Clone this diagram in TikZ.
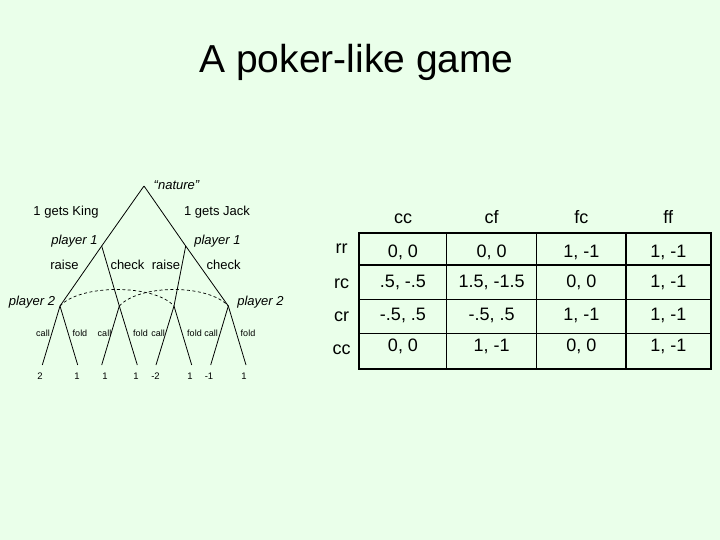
\documentclass[tikz,border=0pt]{standalone}
\usepackage{fontspec}
\setmainfont{Liberation Sans}
\definecolor{bg}{RGB}{234,255,234}
\tikzset{
  lbl/.style={anchor=base, inner sep=0pt, font=\fontsize{13}{15}\selectfont},
  plbl/.style={anchor=base, inner sep=0pt, font=\fontsize{13}{15}\selectfont\itshape},
  small/.style={anchor=base, inner sep=0pt, font=\fontsize{9}{11}\selectfont},
  leaf/.style={anchor=base, inner sep=0pt, font=\fontsize{9.5}{11}\selectfont},
  edge/.style={line width=0.8pt},
  infoset/.style={line width=0.7pt, dash pattern=on 3pt off 2.5pt},
  cell/.style={anchor=base, inner sep=0pt, font=\fontsize{18}{21}\selectfont},
  head/.style={anchor=base, inner sep=0pt, font=\fontsize{18}{21}\selectfont},
}
\begin{document}
\begin{tikzpicture}[x=1pt,y=-1pt]
\useasboundingbox (0,0) rectangle (720,540);
\fill[bg] (0,0) rectangle (720,540);
\node[anchor=base, inner sep=0pt, font=\fontsize{39}{47}\selectfont] (title) at (356.5,73) {A poker-like game};

% tree points
\coordinate (R) at (144,186);
\coordinate (P1L) at (101.7,246);
\coordinate (P1R) at (185.7,246);
\coordinate (A) at (60,306);
\coordinate (B) at (119.3,306);
\coordinate (C) at (174,306);
\coordinate (D) at (228.3,306);
\coordinate (L1) at (42.3,365);
\coordinate (L2) at (77.7,365);
\coordinate (L3) at (101.7,365);
\coordinate (L4) at (137.3,365);
\coordinate (L5) at (156,365);
\coordinate (L6) at (191.7,365);
\coordinate (L7) at (210.7,365);
\coordinate (L8) at (246,365);

\draw[edge] (R) -- (P1L) -- (A);
\draw[edge] (R) -- (P1R) -- (D);
\draw[edge] (P1L) -- (B);
\draw[edge] (P1R) -- (C);
\draw[edge] (A) -- (L1); \draw[edge] (A) -- (L2);
\draw[edge] (B) -- (L3); \draw[edge] (B) -- (L4);
\draw[edge] (C) -- (L5); \draw[edge] (C) -- (L6);
\draw[edge] (D) -- (L7); \draw[edge] (D) -- (L8);
\draw[infoset] (A) .. controls +(20,-22) and +(-20,-22) .. (C);
\draw[infoset] (B) .. controls +(20,-22) and +(-20,-22) .. (D);

% tree labels
\node[plbl] (nat) at (176.5,190) {“nature”};
\node[lbl] (gk) at (66,215) {1 gets King};
\node[lbl] (gj) at (217,215) {1 gets Jack};
\node[plbl] (p1l) at (74.5,244) {player 1};
\node[plbl] (p1r) at (217.5,244) {player 1};
\node[lbl] (r1) at (64.5,269) {raise};
\node[lbl] (c1) at (127.5,269) {check};
\node[lbl] (r2) at (166,269) {raise};
\node[lbl] (c2) at (223.7,269) {check};
\node[plbl] (p2l) at (32,305) {player 2};
\node[plbl] (p2r) at (260.5,305) {player 2};

\node[small] (ca1) at (43,336) {call};
\node[small] (fo1) at (80,336) {fold};
\node[small] (ca2) at (104.5,336) {call};
\node[small] (fo2) at (140.5,336) {fold};
\node[small] (ca3) at (158,336) {call};
\node[small] (fo3) at (194.5,336) {fold};
\node[small] (ca4) at (211,336) {call};
\node[small] (fo4) at (248,336) {fold};

\node[leaf] (v1) at (40,379.3) {2};
\node[leaf] (v2) at (77,379.3) {1};
\node[leaf] (v3) at (105,379.3) {1};
\node[leaf] (v4) at (136,379.3) {1};
\node[leaf] (v5) at (155.5,379.3) {-2};
\node[leaf] (v6) at (190,379.3) {1};
\node[leaf] (v7) at (209,379.3) {-1};
\node[leaf] (v8) at (244,379.3) {1};

% table
\draw[line width=1.1pt] (446.7,232.7) -- (446.7,369.3);
\draw[line width=1.1pt] (536.7,232.7) -- (536.7,369.3);
\draw[line width=1.1pt] (626,232.7) -- (626,369.3);
\draw[line width=1.1pt] (359.3,265) -- (710.7,265);
\draw[line width=1.1pt] (359.3,299.3) -- (710.7,299.3);
\draw[line width=1.1pt] (359.3,333.3) -- (710.7,333.3);
\draw[line width=2pt] (359.3,232.7) rectangle (710.7,369.3);

\node[head] (hcc) at (403,224) {cc};
\node[head] (hcf) at (491.7,224) {cf};
\node[head] (hfc) at (581.3,224) {fc};
\node[head] (hff) at (668.3,224) {ff};

\node[head] (rrr) at (341.7,254) {rr};
\node[head] (rrc) at (341.7,288) {rc};
\node[head] (rcr) at (341.7,321) {cr};
\node[head] (rcc) at (341.7,354) {cc};

\node[cell] (a11) at (403,257.3) {0, 0};
\node[cell] (a12) at (491.7,257.3) {0, 0};
\node[cell] (a13) at (581.3,257.3) {1, -1};
\node[cell] (a14) at (668.3,257.3) {1, -1};
\node[cell] (a21) at (403,287.3) {.5, -.5};
\node[cell] (a22) at (491.7,287.3) {1.5, -1.5};
\node[cell] (a23) at (581.3,287.3) {0, 0};
\node[cell] (a24) at (668.3,287.3) {1, -1};
\node[cell] (a31) at (403,320) {-.5, .5};
\node[cell] (a32) at (491.7,320) {-.5, .5};
\node[cell] (a33) at (581.3,320) {1, -1};
\node[cell] (a34) at (668.3,320) {1, -1};
\node[cell] (a41) at (403,351.7) {0, 0};
\node[cell] (a42) at (491.7,351.7) {1, -1};
\node[cell] (a43) at (581.3,351.7) {0, 0};
\node[cell] (a44) at (668.3,351.7) {1, -1};
\end{tikzpicture}
\end{document}
